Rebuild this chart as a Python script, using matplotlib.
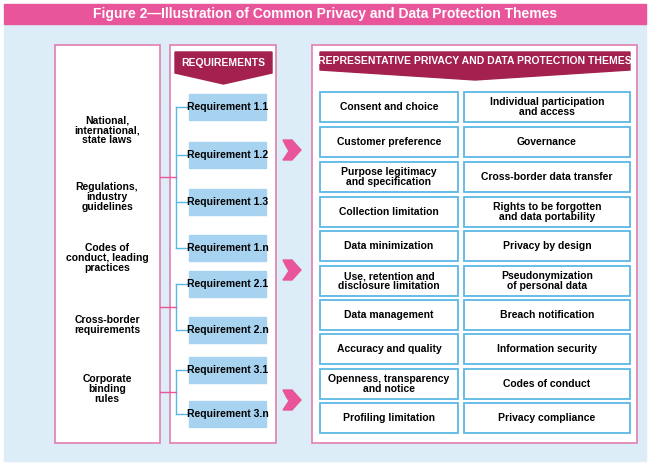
import matplotlib
matplotlib.use("Agg")
import matplotlib.pyplot as plt
from matplotlib.patches import Rectangle, Polygon

plt.rcParams["font.family"] = ["Liberation Sans Narrow", "Liberation Sans", "DejaVu Sans"]

title = "Figure 2\u2014Illustration of Common Privacy and Data Protection Themes"
sources = ["National,\ninternational,\nstate laws", "Regulations,\nindustry\nguidelines",
           "Codes of\nconduct, leading\npractices", "Cross-border\nrequirements",
           "Corporate\nbinding\nrules"]
requirements = ["Requirement 1.1", "Requirement 1.2", "Requirement 1.3", "Requirement 1.n",
                "Requirement 2.1", "Requirement 2.n", "Requirement 3.1", "Requirement 3.n"]
req_groups = [0, 0, 0, 0, 1, 1, 2, 2]
themes_left = ["Consent and choice", "Customer preference", "Purpose legitimacy\nand specification",
               "Collection limitation", "Data minimization", "Use, retention and\ndisclosure limitation",
               "Data management", "Accuracy and quality", "Openness, transparency\nand notice",
               "Profiling limitation"]
themes_right = ["Individual participation\nand access", "Governance", "Cross-border data transfer",
                "Rights to be forgotten\nand data portability", "Privacy by design",
                "Pseudonymization\nof personal data", "Breach notification", "Information security",
                "Codes of conduct", "Privacy compliance"]

PINK = "#e8559a"; MAROON = "#a3204f"; BLUE = "#5bb8e6"; LBLUE = "#a7d3f0"; BG = "#dcedf8"
FS = 7.5
fig = plt.figure(figsize=(6.5, 4.65), dpi=100)
ax = fig.add_axes([0, 0, 1, 1]); ax.set_xlim(0, 650); ax.set_ylim(465, 0); ax.axis("off")
ax.add_patch(Rectangle((0, 0), 650, 465, color="white"))
ax.add_patch(Rectangle((4, 24), 642, 437, color=BG))
ax.add_patch(Rectangle((4, 4), 642, 20, color=PINK))
ax.text(325, 14, title, color="white", fontsize=10, fontweight="bold", ha="center", va="center",
        family=["Liberation Sans", "DejaVu Sans"])

for x0, x1 in [(55, 160), (170, 276), (312, 637)]:
    ax.add_patch(Rectangle((x0, 45), x1 - x0, 398, facecolor="white", edgecolor="#e27fb0", lw=1.2))

src_y = [130, 197, 258, 325, 389]
for s, y in zip(sources, src_y):
    ax.text(107, y, s, ha="center", va="center", fontsize=FS, fontweight="bold", linespacing=1.0)

def banner(x0, x1, y0, y1, tip, text):
    ax.add_patch(Polygon([(x0, y0), (x1, y0), (x1, y1), ((x0 + x1) / 2, tip), (x0, y1)], color=MAROON))
    ax.text((x0 + x1) / 2, (y0 + y1) / 2, text, color="white", fontsize=FS, fontweight="bold",
            ha="center", va="center")
banner(175, 272, 52, 73, 84, "REQUIREMENTS")
banner(320, 630, 52, 70, 80, "REPRESENTATIVE PRIVACY AND DATA PROTECTION THEMES")

req_y = [107, 155, 202, 248, 284, 330, 370, 414]
for r, y in zip(requirements, req_y):
    ax.add_patch(Rectangle((189, y - 13), 77, 26, color=LBLUE))
    ax.text(228, y, r, ha="center", va="center", fontsize=FS, fontweight="bold")
    ax.plot([176, 189], [y, y], color=BLUE, lw=1)
link_y = [177, 307, 392]
for g in range(3):
    ys = [y for y, gg in zip(req_y, req_groups) if gg == g]
    ax.plot([176, 176], [min(ys), max(ys)], color=BLUE, lw=1)
    ax.plot([160, 176], [link_y[g], link_y[g]], color=PINK, lw=1)

for cy in [150, 270, 400]:
    ax.add_patch(Polygon([(283, cy - 10), (292, cy - 10), (301, cy), (292, cy + 10), (283, cy + 10),
                          (289, cy + 1), (286, cy - 4)], color=PINK))

row_y = [107, 142, 177, 212, 246, 281, 315, 349, 384, 418]
for tl, tr, y in zip(themes_left, themes_right, row_y):
    for x0, x1, t in [(320, 458, tl), (464, 630, tr)]:
        ax.add_patch(Rectangle((x0, y - 15), x1 - x0, 30, facecolor="white", edgecolor=BLUE, lw=1.3))
        ax.text((x0 + x1) / 2, y, t, ha="center", va="center", fontsize=FS, fontweight="bold",
                linespacing=1.0)

fig.savefig("out.png", dpi=100)
